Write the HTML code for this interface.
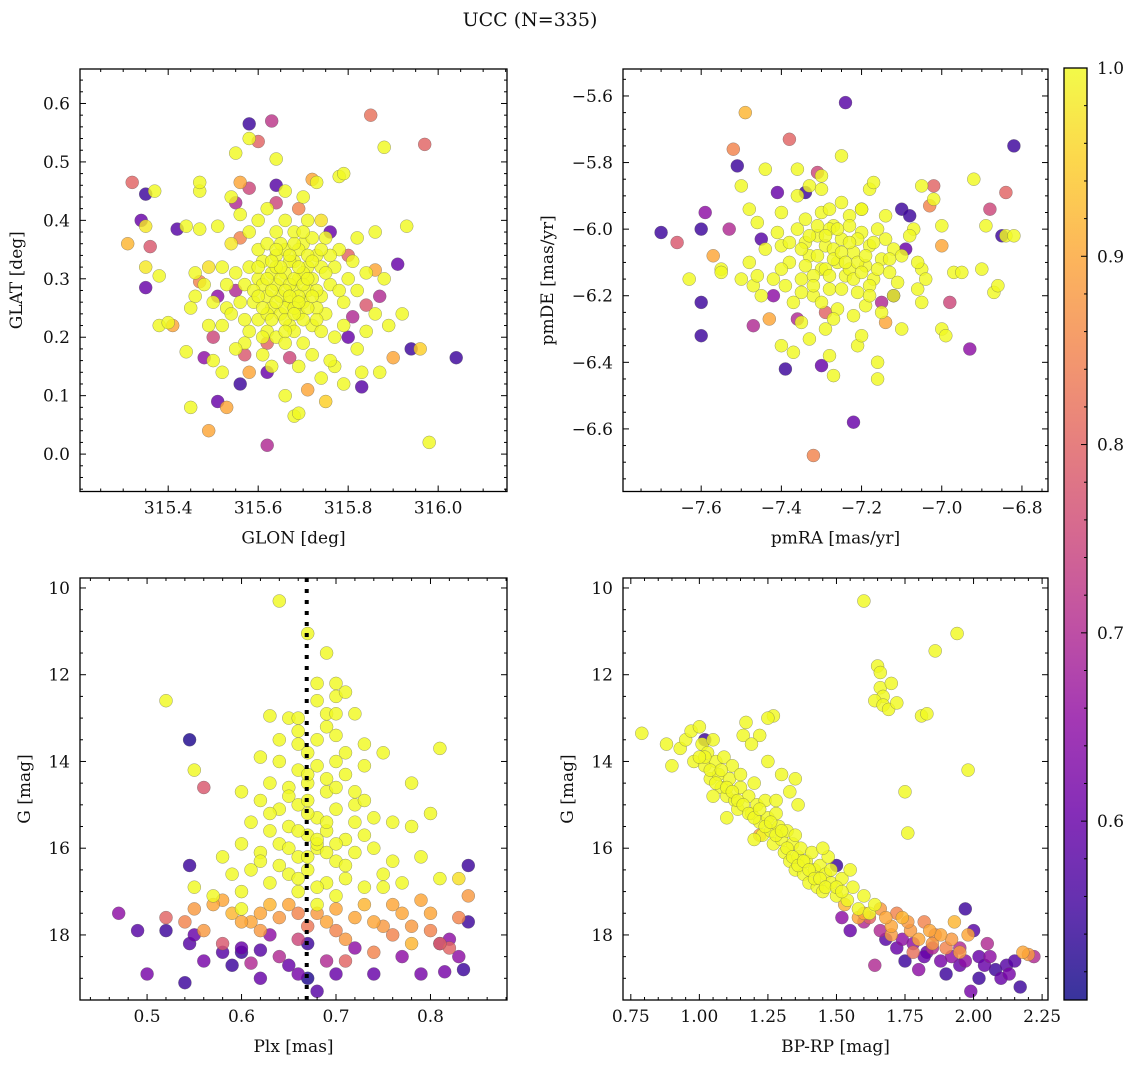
<!DOCTYPE html>
<html><head><meta charset="utf-8"><style>
html,body{margin:0;padding:0;background:#fff;}
svg{display:block;font-family:"DejaVu Serif","Liberation Serif",serif;}
</style></head><body>
<svg id="fig" width="1136" height="1068" viewBox="0 0 1136 1068" xmlns="http://www.w3.org/2000/svg">
<text x="530" y="26" font-size="19" text-anchor="middle" fill="#111">UCC (N=335)</text>
</svg>
<script>
// ---------- data ----------
const glonGlatOut = [[315.32,0.465,0.8],[315.35,0.445,0.55],[315.31,0.36,0.92],[315.34,0.40,0.6],[315.36,0.355,0.78],[315.35,0.39,0.98],[315.37,0.45,1],[315.35,0.285,0.6],[315.35,0.32,0.98],[315.38,0.305,1],[315.38,0.22,1],[315.40,0.225,1],[315.41,0.22,0.9],[315.42,0.385,0.58],[315.44,0.175,1],[315.45,0.08,1],[315.44,0.39,1],[315.46,0.27,1],[315.47,0.45,1],[315.47,0.465,1],[315.47,0.385,1],[315.47,0.295,0.85],[315.48,0.165,0.65],[315.49,0.04,0.9],[315.49,0.32,0.97],[315.50,0.16,1],[315.50,0.20,0.75],[315.51,0.09,0.6],[315.51,0.39,1],[315.52,0.14,1],[315.53,0.08,0.9],[315.54,0.36,0.98],[315.54,0.44,1],[315.55,0.515,1],[315.56,0.465,0.9],[315.55,0.43,0.7],[315.56,0.12,0.55],[315.56,0.37,0.85],[315.57,0.17,0.78],[315.58,0.54,1],[315.58,0.14,0.9],[315.58,0.565,0.55],[315.60,0.535,0.8],[315.58,0.455,0.75],[315.62,0.015,0.7],[315.62,0.19,0.8],[315.63,0.57,0.72],[315.64,0.46,0.58],[315.64,0.505,1],[315.62,0.14,0.6],[315.64,0.43,0.75],[315.67,0.165,0.75],[315.68,0.065,1],[315.69,0.07,1],[315.69,0.42,0.85],[315.71,0.11,0.9],[315.72,0.47,0.9],[315.73,0.465,1],[315.74,0.13,1],[315.75,0.09,0.95],[315.74,0.40,0.97],[315.76,0.38,0.6],[315.78,0.475,1],[315.79,0.48,1],[315.80,0.34,0.8],[315.80,0.20,0.6],[315.81,0.235,0.7],[315.82,0.18,1],[315.83,0.14,1],[315.83,0.115,0.58],[315.84,0.255,0.78],[315.85,0.58,0.82],[315.86,0.315,0.9],[315.87,0.27,0.7],[315.87,0.14,1],[315.88,0.525,1],[315.89,0.22,1],[315.90,0.165,0.9],[315.91,0.325,0.6],[315.92,0.24,1],[315.93,0.39,1],[315.94,0.18,0.55],[315.96,0.18,0.95],[315.97,0.53,0.8],[315.98,0.02,1],[316.04,0.165,0.55],[315.82,0.37,1],[315.86,0.38,1],[315.79,0.12,1],[315.77,0.15,1],[315.66,0.10,1],[315.53,0.25,1],[315.51,0.27,0.65],[315.48,0.29,1],[315.46,0.31,1],[315.49,0.22,1],[315.52,0.32,1],[315.55,0.28,0.7],[315.57,0.23,1]];
const glonGlatCore = [[315.60,0.30],[315.62,0.27],[315.64,0.29],[315.66,0.31],[315.68,0.28],[315.70,0.26],[315.72,0.30],[315.63,0.25],[315.65,0.24],[315.67,0.22],[315.69,0.24],[315.71,0.32],[315.73,0.34],[315.61,0.33],[315.59,0.26],[315.57,0.29],[315.58,0.32],[315.60,0.35],[315.62,0.36],[315.64,0.34],[315.66,0.35],[315.68,0.33],[315.70,0.36],[315.74,0.27],[315.76,0.29],[315.75,0.24],[315.77,0.32],[315.78,0.35],[315.79,0.26],[315.80,0.30],[315.62,0.21],[315.64,0.20],[315.66,0.19],[315.68,0.21],[315.70,0.19],[315.72,0.22],[315.74,0.21],[315.60,0.23],[315.58,0.21],[315.56,0.26],[315.55,0.31],[315.54,0.24],[315.63,0.31],[315.65,0.27],[315.67,0.26],[315.69,0.30],[315.71,0.28],[315.73,0.25],[315.61,0.29],[315.59,0.28],[315.64,0.38],[315.66,0.40],[315.68,0.38],[315.71,0.40],[315.75,0.37],[315.77,0.20],[315.79,0.22],[315.82,0.28],[315.84,0.31],[315.52,0.22],[315.50,0.26],[315.53,0.29],[315.61,0.17],[315.63,0.15],[315.69,0.15],[315.72,0.17],[315.76,0.16],[315.57,0.19],[315.55,0.18],[315.84,0.21],[315.86,0.24],[315.81,0.33],[315.60,0.40],[315.58,0.38],[315.56,0.41],[315.70,0.44],[315.66,0.45],[315.62,0.42],[315.88,0.30],[315.45,0.25],[315.65,0.30],[315.67,0.29],[315.69,0.27],[315.63,0.28],[315.71,0.25],[315.66,0.25],[315.68,0.25],[315.64,0.32],[315.70,0.31],[315.62,0.24],[315.73,0.28],[315.74,0.32],[315.76,0.34],[315.60,0.27],[315.67,0.33],[315.65,0.36],[315.69,0.35],[315.72,0.37],[315.78,0.28],[315.61,0.20],
[315.64,0.26],[315.66,0.28],[315.68,0.30],[315.70,0.29],[315.72,0.27],[315.65,0.32],[315.67,0.34],[315.69,0.32],[315.71,0.34],[315.63,0.23],[315.66,0.23],[315.70,0.23],[315.73,0.23],[315.62,0.30],[315.75,0.31],[315.67,0.27],[315.69,0.26],[315.71,0.30],[315.64,0.35],[315.68,0.36],[315.60,0.32],[315.61,0.25],[315.74,0.35],[315.72,0.33],[315.66,0.21],[315.68,0.24],[315.63,0.33],[315.70,0.38]];
const pmOut = [[-7.70,-6.01,0.55],[-7.66,-6.04,0.78],[-7.63,-6.15,1],[-7.60,-6.0,0.55],[-7.60,-6.22,0.55],[-7.60,-6.32,0.55],[-7.59,-5.95,0.65],[-7.57,-6.08,0.9],[-7.55,-6.12,1],[-7.53,-6.0,0.7],[-7.52,-5.76,0.85],[-7.51,-5.81,0.55],[-7.50,-5.87,1],[-7.49,-5.65,0.92],[-7.48,-5.94,1],[-7.47,-6.17,1],[-7.47,-6.29,0.7],[-7.45,-6.03,0.58],[-7.44,-5.82,1],[-7.43,-6.27,0.9],[-7.42,-6.20,0.65],[-7.41,-5.89,0.6],[-7.40,-6.35,1],[-7.39,-6.42,0.55],[-7.38,-5.73,0.8],[-7.37,-6.37,1],[-7.36,-6.27,0.7],[-7.34,-5.89,0.55],[-7.32,-6.68,0.85],[-7.31,-5.83,0.75],[-7.30,-6.41,0.6],[-7.29,-6.25,0.8],[-7.27,-6.44,1],[-7.25,-5.78,1],[-7.24,-5.62,0.58],[-7.22,-6.58,0.6],[-7.21,-6.35,1],[-7.20,-5.94,1],[-7.18,-5.88,1],[-7.17,-5.86,1],[-7.16,-6.40,1],[-7.16,-6.45,1],[-7.15,-6.22,0.7],[-7.14,-6.28,0.9],[-7.12,-6.20,0.55],[-7.10,-5.94,0.55],[-7.09,-6.06,0.6],[-7.08,-5.96,0.55],[-7.07,-6.00,1],[-7.06,-6.18,1],[-7.05,-6.12,1],[-7.03,-5.93,0.85],[-7.02,-5.91,1],[-7.00,-6.05,0.9],[-7.00,-5.99,1],[-7.00,-6.3,1],[-6.99,-6.32,1],[-6.98,-6.22,0.75],[-6.97,-6.13,1],[-6.95,-6.13,1],[-6.93,-6.36,0.65],[-6.92,-5.85,1],[-6.90,-6.12,1],[-6.89,-5.99,1],[-6.88,-5.94,0.75],[-6.87,-6.19,1],[-6.86,-6.17,1],[-6.85,-6.02,0.55],[-6.84,-6.02,1],[-6.84,-5.89,0.8],[-6.82,-5.75,0.55],[-6.82,-6.02,1],[-7.02,-5.87,0.8],[-7.05,-5.87,1],[-7.33,-5.87,1],[-7.46,-6.14,1]];
const pmCore = [[-7.40,-6.05],[-7.38,-6.10],[-7.36,-6.00],[-7.35,-6.15],[-7.34,-5.97],[-7.33,-6.08],[-7.32,-6.20],[-7.31,-6.02],[-7.30,-5.95],[-7.30,-6.12],[-7.29,-6.05],[-7.28,-6.18],[-7.27,-5.99],[-7.26,-6.10],[-7.25,-6.03],[-7.24,-6.14],[-7.23,-5.96],[-7.22,-6.07],[-7.21,-6.19],[-7.20,-6.01],[-7.19,-6.11],[-7.18,-6.05],[-7.17,-6.15],[-7.16,-6.00],[-7.15,-6.09],[-7.14,-6.03],[-7.13,-6.13],[-7.12,-6.06],[-7.11,-6.16],[-7.10,-6.08],[-7.37,-6.22],[-7.35,-6.28],[-7.33,-6.33],[-7.29,-6.30],[-7.26,-6.24],[-7.22,-6.26],[-7.19,-6.23],[-7.15,-6.25],[-7.42,-6.15],[-7.44,-6.06],[-7.45,-6.20],[-7.40,-5.95],[-7.36,-5.90],[-7.30,-5.88],[-7.25,-5.92],[-7.20,-5.94],[-7.14,-5.96],[-7.08,-6.02],[-7.06,-6.10],[-7.04,-6.15],[-7.32,-6.14],[-7.27,-6.06],[-7.23,-6.12],[-7.28,-6.00],[-7.34,-6.04],[-7.18,-6.17],[-7.21,-6.03],[-7.39,-6.17],[-7.41,-6.01],[-7.12,-6.20],[-7.48,-6.10],[-7.50,-6.15],[-7.55,-6.13],[-7.46,-5.98],[-7.10,-6.30],[-7.05,-6.22],[-7.28,-6.38],[-7.20,-6.32],[-7.36,-5.82],[-7.30,-5.84],
[-7.35,-6.06],[-7.33,-6.02],[-7.31,-6.08],[-7.29,-6.12],[-7.27,-6.09],[-7.25,-6.07],[-7.23,-6.04],[-7.21,-6.10],[-7.19,-6.08],[-7.17,-6.04],[-7.29,-6.02],[-7.26,-6.00],[-7.24,-6.10],[-7.32,-6.17],[-7.28,-6.14],[-7.22,-6.15],[-7.20,-6.13],[-7.34,-6.11],[-7.38,-6.04],[-7.16,-6.12],[-7.25,-6.18],[-7.30,-6.22],[-7.27,-6.27],[-7.35,-6.19],[-7.18,-6.20],[-7.31,-5.99],[-7.23,-5.99],[-7.40,-6.12],[-7.13,-6.09],[-7.28,-5.94]];
const plxG = [[0.64,10.3,1],[0.67,11.05,1],[0.69,11.5,1],[0.70,12.2,1],[0.70,12.5,1],[0.71,12.4,1],[0.68,12.6,1],[0.72,12.9,1],[0.69,12.9,1],[0.63,12.95,1],[0.65,13.0,1],[0.66,13.3,1],[0.70,13.4,1],[0.73,13.6,1],[0.67,13.8,1],[0.62,13.9,1],[0.64,14.0,1],[0.66,14.2,1],[0.68,14.1,1],[0.70,14.0,1],[0.71,14.3,1],[0.73,14.1,1],[0.75,13.8,1],[0.63,14.5,1],[0.65,14.6,1],[0.67,14.5,1],[0.69,14.7,1],[0.72,14.7,1],[0.60,14.7,1],[0.62,14.9,1],[0.64,15.1,1],[0.66,15.0,1],[0.68,15.3,1],[0.70,15.1,1],[0.72,15.0,1],[0.74,15.3,1],[0.61,15.4,1],[0.63,15.6,1],[0.65,15.5,1],[0.67,15.7,1],[0.69,15.6,1],[0.71,15.8,1],[0.73,15.7,1],[0.76,15.4,1],[0.78,15.5,1],[0.60,15.9,1],[0.62,16.1,1],[0.64,15.9,1],[0.66,16.2,1],[0.68,16.0,1],[0.70,16.3,1],[0.72,16.1,1],[0.74,16.0,1],[0.76,16.3,1],[0.58,16.2,1],[0.59,16.6,1],[0.61,16.5,1],[0.63,16.8,1],[0.65,16.6,1],[0.67,16.5,1],[0.69,16.8,1],[0.71,16.7,1],[0.73,16.9,1],[0.75,16.6,1],[0.77,16.8,1],[0.79,16.2,1],[0.81,16.7,1],[0.55,14.2,1],[0.52,12.6,1],[0.55,16.9,1],[0.57,17.1,1],[0.60,17.0,1],[0.78,14.5,1],[0.81,13.7,1],[0.83,16.7,0.97],[0.66,17.0,1],[0.75,16.9,1],[0.60,17.4,1],[0.68,17.3,1],[0.73,14.9,1],[0.80,15.2,1],[0.67,14.9,1],[0.69,13.2,1],[0.68,15.9,1],[0.66,13.6,1],[0.70,14.6,1],
[0.66,13.0,1],[0.68,13.5,1],[0.67,14.3,1],[0.69,14.4,1],[0.65,14.8,1],[0.67,15.2,1],[0.69,15.4,1],[0.66,15.6,1],[0.68,15.8,1],[0.70,15.9,1],[0.65,16.0,1],[0.67,16.2,1],[0.69,16.1,1],[0.71,16.4,1],[0.64,16.4,1],[0.66,16.7,1],[0.68,16.9,1],[0.70,12.9,1],[0.68,12.2,1],[0.71,13.8,1],[0.64,13.5,1],[0.72,15.4,1],[0.63,15.2,1],[0.62,16.3,1],[0.70,17.1,1],
[0.52,17.6,0.8],[0.54,17.7,0.85],[0.56,17.9,0.88],[0.58,17.2,0.9],[0.59,17.5,0.92],[0.61,17.7,0.9],[0.63,17.3,0.92],[0.64,17.6,0.88],[0.66,17.5,0.85],[0.69,17.7,0.9],[0.70,17.9,0.85],[0.71,18.1,0.88],[0.72,17.6,0.9],[0.73,17.3,0.92],[0.75,17.8,0.88],[0.76,18.0,0.85],[0.77,17.5,0.9],[0.78,18.2,0.92],[0.79,17.2,0.9],[0.80,17.9,0.85],[0.82,18.3,0.8],[0.84,17.1,0.88],[0.62,17.9,0.88],[0.74,18.4,0.85],[0.56,14.6,0.78],[0.58,18.2,0.78],[0.66,18.1,0.75],[0.71,18.6,0.8],[0.81,18.2,0.8],[0.67,17.8,0.83],
[0.57,17.3,0.9],[0.60,17.7,0.9],[0.62,17.5,0.9],[0.65,17.3,0.9],[0.68,17.5,0.88],[0.70,17.4,0.9],[0.74,17.7,0.9],[0.76,17.3,0.9],[0.78,17.8,0.88],[0.80,17.5,0.9],[0.55,17.4,0.88],[0.83,17.6,0.85],
[0.47,17.5,0.65],[0.49,17.9,0.58],[0.50,18.9,0.62],[0.52,17.9,0.55],[0.54,19.1,0.55],[0.545,18.2,0.58],[0.545,16.4,0.55],[0.545,13.5,0.52],[0.55,18.0,0.6],[0.56,18.6,0.62],[0.58,18.4,0.58],[0.59,18.7,0.55],[0.60,18.3,0.6],[0.61,18.65,0.7],[0.62,18.35,0.58],[0.63,18.0,0.65],[0.64,18.5,0.7],[0.65,18.7,0.6],[0.66,18.9,0.62],[0.67,18.2,0.55],[0.67,19.0,0.52],[0.68,19.3,0.58],[0.69,18.6,0.7],[0.70,18.9,0.6],[0.72,18.3,0.65],[0.74,18.9,0.6],[0.77,18.5,0.65],[0.79,18.9,0.62],[0.81,18.2,0.6],[0.815,18.85,0.62],[0.83,18.5,0.65],[0.84,17.7,0.55],[0.84,16.4,0.55],[0.835,18.8,0.55],[0.82,18.1,0.65],[0.60,18.4,0.55],[0.62,19.0,0.6]];
const cmdYellow = [[0.79,13.35],[0.88,13.6],[0.9,14.1],[0.93,13.7],[0.95,13.5],[0.97,13.3],[0.98,14.0],[1.0,13.2],[1.01,13.6],[1.02,14.1],[1.03,13.8],[1.04,14.4],[1.05,13.5],[1.06,14.0],[1.07,14.3],[1.08,14.6],[1.09,13.9],[1.1,14.8],[1.11,14.4],[1.12,14.1],[1.13,14.9],[1.14,15.1],[1.15,14.6],[1.16,13.4],[1.17,13.1],[1.18,14.8],[1.19,15.2],[1.2,14.5],[1.21,15.0],[1.22,15.4],[1.23,15.7],[1.24,14.9],[1.25,15.3],[1.26,15.6],[1.27,15.9],[1.28,15.2],[1.29,15.5],[1.3,15.8],[1.31,16.1],[1.32,15.6],[1.33,16.3],[1.34,15.9],[1.35,16.5],[1.36,16.2],[1.37,16.0],[1.38,16.6],[1.39,16.3],[1.4,16.8],[1.41,16.1],[1.42,16.5],[1.43,16.9],[1.44,16.4],[1.45,17.0],[1.46,16.6],[1.47,16.2],[1.48,16.8],[1.5,17.1],[1.52,16.7],[1.54,17.2],[1.56,16.9],[1.58,17.4],[1.6,17.1],[1.62,17.5],[1.64,17.3],[1.25,14.0],[1.27,12.95],[1.22,13.4],[1.19,13.6],[1.3,14.3],[1.33,14.7],[1.36,15.0],[1.25,13.0],[1.6,10.3],[1.94,11.05],[1.86,11.45],[1.65,11.8],[1.66,11.95],[1.66,12.3],[1.67,12.5],[1.7,12.2],[1.64,12.6],[1.67,12.7],[1.69,12.8],[1.72,12.65],[1.81,12.95],[1.83,12.9],[1.98,14.2],[1.75,14.7],[1.76,15.65],[1.35,14.4],[1.05,14.8],[1.1,15.3],[1.2,15.8],[1.45,16.0],[1.55,16.5],
[1.02,13.9],[1.04,14.2],[1.06,14.5],[1.08,14.2],[1.10,14.6],[1.12,14.7],[1.14,14.9],[1.16,15.0],[1.18,15.2],[1.20,15.3],[1.22,15.1],[1.24,15.5],[1.26,15.4],[1.28,15.7],[1.30,15.6],[1.32,16.0],[1.34,16.2],[1.36,16.4],[1.38,16.3],[1.40,16.5],[1.42,16.7],[1.44,16.7],[1.46,16.9],[1.48,16.5],[1.50,16.9],[1.52,17.0],[1.35,15.7],[1.28,14.9],[1.15,14.3],[1.00,13.9]];
const cmdOther = [[1.22,15.7,0.9],[1.58,17.6,0.9],[1.66,17.4,0.88],[1.7,17.8,0.9],[1.74,17.6,0.92],[1.77,17.9,0.88],[1.8,18.1,0.9],[1.82,17.7,0.85],[1.85,18.2,0.88],[1.88,18.0,0.9],[1.9,18.3,0.85],[1.93,17.7,0.92],[1.95,18.4,0.88],[1.98,18.0,0.9],[2.18,18.4,0.9],[2.2,18.45,0.88],[1.72,17.5,0.85],[1.62,17.6,0.8],[1.78,18.4,0.82],[1.53,17.3,0.92],
[1.60,17.5,0.9],[1.68,17.6,0.9],[1.76,17.7,0.88],[1.84,17.9,0.9],[1.86,18.0,0.85],[1.92,18.1,0.88],[1.70,18.0,0.88],[1.66,17.9,0.7],[1.74,18.1,0.65],[1.83,18.4,0.6],[1.97,18.6,0.65],[2.02,18.5,0.6],[2.12,18.7,0.58],[1.95,18.3,0.7],
[1.52,17.6,0.65],[1.55,17.9,0.6],[1.6,17.7,0.7],[1.64,18.7,0.7],[1.68,18.1,0.58],[1.72,18.3,0.6],[1.75,18.6,0.55],[1.78,18.2,0.65],[1.82,18.5,0.6],[1.85,18.3,0.7],[1.88,18.6,0.62],[1.9,18.9,0.55],[1.92,18.5,0.65],[1.95,18.7,0.6],[1.97,17.4,0.55],[1.99,19.3,0.62],[2.0,17.9,0.58],[2.02,19.0,0.55],[2.04,18.7,0.6],[2.06,18.5,0.65],[2.08,18.8,0.55],[2.1,19.0,0.6],[2.13,18.9,0.62],[2.15,18.6,0.58],[2.17,19.2,0.55],[2.22,18.5,0.7],[1.5,16.4,0.55],[1.02,13.5,0.55],[2.05,18.2,0.7],[1.8,18.8,0.65]];
const plxLine = [0.669];
const p1xTicks = [315.4,315.6,315.8,316.0];
const p1yTicks = [0.0,0.1,0.2,0.3,0.4,0.5,0.6];
const p2xTicks = [-7.6,-7.4,-7.2,-7.0,-6.8];
const p2yTicks = [-5.6,-5.8,-6.0,-6.2,-6.4,-6.6];
const p3xTicks = [0.5,0.6,0.7,0.8];
const gTicks = [10,12,14,16,18];
const p4xTicks = [0.75,1.0,1.25,1.5,1.75,2.0,2.25];
const cbTicks = [0.6,0.7,0.8,0.9,1.0];

// ---------- helpers ----------
const NS="http://www.w3.org/2000/svg";
const svg=document.getElementById('fig');
function mk(tag,attrs,parent){const e=document.createElementNS(NS,tag);for(const k in attrs)e.setAttribute(k,attrs[k]);(parent||svg).appendChild(e);return e;}
const plasma=[[13,8,135],[65,4,157],[106,0,168],[143,13,164],[177,42,144],[204,71,120],[225,100,98],[242,132,75],[252,166,54],[252,206,37],[240,249,33]];
const vmin=0.505,vmax=1.0;
function cmap(p){let t=(p-vmin)/(vmax-vmin);t=Math.max(0,Math.min(1,t))*10;const i=Math.min(9,Math.floor(t)),f=t-i;const a=plasma[i],b=plasma[i+1];return 'rgb('+[0,1,2].map(k=>Math.round(a[k]+(b[k]-a[k])*f)).join(',')+')';}
function fmt(v,d){return (v<0?'\u2212':'')+Math.abs(v).toFixed(d);}

function panel(cfg){
  const g=mk('g',{});
  
  
  const X=v=>cfg.L+(v-cfg.x0)/(cfg.x1-cfg.x0)*(cfg.R-cfg.L);
  const Y=v=>cfg.B-(v-cfg.y0)/(cfg.y1-cfg.y0)*(cfg.B-cfg.T);
  const clip='clip-'+cfg.name;
  const cp=mk('clipPath',{id:clip},g);mk('rect',{x:cfg.L,y:cfg.T,width:cfg.R-cfg.L,height:cfg.B-cfg.T},cp);
  const pts=mk('g',{'clip-path':'url(#'+clip+')'},g);
  
  
  const sorted=cfg.pts.slice().sort((a,b)=>a[2]-b[2]);
  sorted.forEach(d=>{
    const c=mk('circle',{cx:X(d[0]).toFixed(1),cy:Y(d[1]).toFixed(1),r:6.5,fill:cmap(d[2]),'fill-opacity':0.82,stroke:'#5a5a5a','stroke-opacity':0.6,'stroke-width':0.5},pts);
    
    
  });
  if(cfg.vline){cfg.vline.forEach(v=>{const l=mk('line',{x1:X(v),x2:X(v),y1:cfg.T,y2:cfg.B,stroke:'#000','stroke-width':4,'stroke-dasharray':'4 7'},g);
    
    });}
  const fr=mk('rect',{x:cfg.L,y:cfg.T,width:cfg.R-cfg.L,height:cfg.B-cfg.T,fill:'none',stroke:'#000','stroke-width':1.3},g);
  
  
  const tk=mk('g',{stroke:'#000','stroke-width':1},g);
  const xs=Math.ceil(cfg.x0/cfg.xm-1e-9);
  for(let i=xs;i*cfg.xm<=cfg.x1+1e-9;i++){const v=i*cfg.xm,x=X(v);const maj=cfg.xt.some(t=>Math.abs(t-v)<1e-6);const len=maj?6:3;
    mk('line',{x1:x,x2:x,y1:cfg.B,y2:cfg.B-len},tk);mk('line',{x1:x,x2:x,y1:cfg.T,y2:cfg.T+len},tk);}
  const ys=Math.ceil(Math.min(cfg.y0,cfg.y1)/cfg.ym-1e-9);
  for(let i=ys;i*cfg.ym<=Math.max(cfg.y0,cfg.y1)+1e-9;i++){const v=i*cfg.ym,y=Y(v);const maj=cfg.yt.some(t=>Math.abs(t-v)<1e-6);const len=maj?6:3;
    mk('line',{x1:cfg.L,x2:cfg.L+len,y1:y,y2:y},tk);mk('line',{x1:cfg.R,x2:cfg.R-len,y1:y,y2:y},tk);}
  cfg.xt.forEach(v=>{const t=mk('text',{x:X(v),y:cfg.B+22,'font-size':17,'text-anchor':'middle',fill:'#111'},g);t.textContent=fmt(v,cfg.xd);
    
    });
  cfg.yt.forEach(v=>{const t=mk('text',{x:cfg.L-10,y:Y(v)+6,'font-size':17,'text-anchor':'end',fill:'#111'},g);t.textContent=fmt(v,cfg.yd);
    
    });
  const xl=mk('text',{x:(cfg.L+cfg.R)/2,y:cfg.B+52,'font-size':17,'text-anchor':'middle',fill:'#111'},g);xl.textContent=cfg.xl;
  
  
  const yx=cfg.L-cfg.ylOff;
  const yl=mk('text',{x:yx,y:(cfg.T+cfg.B)/2,'font-size':17,'text-anchor':'middle',fill:'#111',transform:'rotate(-90 '+yx+' '+(cfg.T+cfg.B)/2+')'},g);yl.textContent=cfg.yl;
  
  
}

panel({name:'glon-glat-panel',L:80,R:507,T:69,B:491.5,x0:315.204,x1:316.153,y0:-0.064,y1:0.659,xm:0.05,ym:0.02,xt:p1xTicks,yt:p1yTicks,xd:1,yd:1,xl:'GLON [deg]',yl:'GLAT [deg]',ylOff:58,
  pts:glonGlatOut.concat(glonGlatCore.map(d=>[d[0],d[1],1]))});
panel({name:'proper-motion-panel',L:623,R:1048,T:69,B:491.5,x0:-7.795,x1:-6.735,y0:-6.788,y1:-5.519,xm:0.05,ym:0.05,xt:p2xTicks,yt:p2yTicks,xd:1,yd:1,xl:'pmRA [mas/yr]',yl:'pmDE [mas/yr]',ylOff:70,
  pts:pmOut.concat(pmCore.map(d=>[d[0],d[1],1]))});
panel({name:'plx-g-panel',L:80,R:507,T:578,B:1000,x0:0.429,x1:0.881,y0:19.50,y1:9.77,xm:0.02,ym:0.5,xt:p3xTicks,yt:gTicks,xd:1,yd:0,xl:'Plx [mas]',yl:'G [mag]',ylOff:50,
  pts:plxG,vline:plxLine});
panel({name:'cmd-panel',L:623,R:1048,T:578,B:1000,x0:0.7215,x1:2.2715,y0:19.50,y1:9.77,xm:0.05,ym:0.5,xt:p4xTicks,yt:gTicks,xd:2,yd:0,xl:'BP-RP [mag]',yl:'G [mag]',ylOff:50,
  pts:cmdYellow.map(d=>[d[0],d[1],1]).concat(cmdOther)});

(function(){
  const L=1064,R=1087,T=68,B=1000;
  const g=mk('g',{});
  
  
  const defs=mk('defs',{},g);
  const lg=mk('linearGradient',{id:'cbg',x1:0,y1:1,x2:0,y2:0},defs);
  for(let i=0;i<=20;i++){mk('stop',{offset:i/20,'stop-color':cmap(vmin+(vmax-vmin)*i/20),'stop-opacity':0.82},lg);}
  mk('rect',{x:L,y:T,width:R-L,height:B-T,fill:'url(#cbg)',stroke:'#000','stroke-width':1.3},g);
  const Y=v=>B-(v-vmin)/(vmax-vmin)*(B-T);
  for(let i=26;i<=50;i++){const v=i*0.02;const y=Y(v);const maj=cbTicks.some(t=>Math.abs(t-v)<1e-6);
    mk('line',{x1:R,x2:R-(maj?6:3),y1:y,y2:y,stroke:'#000','stroke-width':1},g);}
  cbTicks.forEach(v=>{const t=mk('text',{x:R+10,y:Y(v)+6,'font-size':17,fill:'#111'},g);t.textContent=v.toFixed(1);
    
    });
})();
</script>
</body></html>
